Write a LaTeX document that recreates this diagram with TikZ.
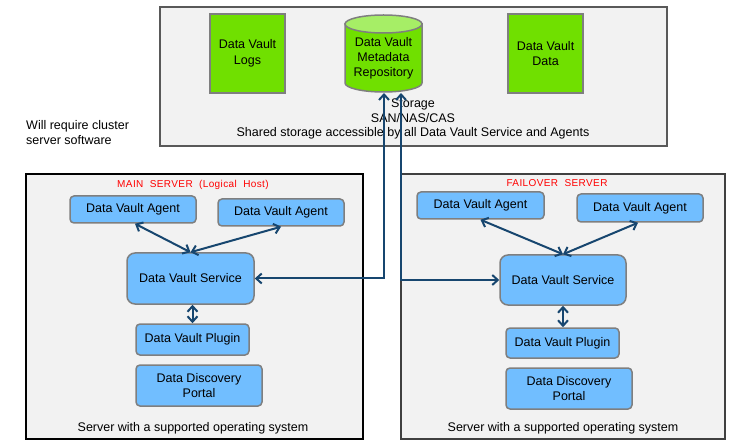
\documentclass[tikz,border=0pt]{standalone}
\usepackage{fontspec}
\setmainfont{Liberation Sans}
\usetikzlibrary{arrows.meta,calc}
\definecolor{panel}{HTML}{F2F2F2}
\definecolor{boxblue}{HTML}{71BEFF}
\definecolor{boxgreen}{HTML}{70E000}
\definecolor{topgreen}{HTML}{A6EE66}
\definecolor{edgegray}{HTML}{7F7F7F}
\definecolor{arrblue}{HTML}{17466F}
\definecolor{titlered}{HTML}{FF0000}
\tikzset{
  panelbox/.style={fill=panel,line width=2pt},
  bluebox/.style={draw=edgegray,fill=boxblue,line width=1.5pt,rounded corners=4pt,align=center,inner sep=0pt,font=\fontsize{12.5}{15}\selectfont},
  greenbox/.style={draw=edgegray,fill=boxgreen,line width=1.5pt,align=center,inner sep=0pt,minimum width=75pt,minimum height=79pt,font=\fontsize{12.5}{15.5}\selectfont},
  conn/.style={draw=arrblue,line width=2pt,{Straight Barb[length=5.5pt,width=10pt]}-{Straight Barb[length=5.5pt,width=10pt]}},
  plain/.style={font=\fontsize{12.5}{14.5}\selectfont,align=center,inner sep=0pt},
  redtitle/.style={text=titlered,inner sep=0pt,font=\fontsize{10}{12}\selectfont\addfontfeature{LetterSpace=4}}
}
\begin{document}
\begin{tikzpicture}[x=1pt,y=-1pt]
\useasboundingbox (0,0) rectangle (730,443);
% storage panel
\draw[panelbox,draw=black!65] (160,7) rectangle (667,146);
\node[greenbox] (logs) at (247.5,53.5) {Data Vault\\Logs};
\node[greenbox] (data) at (545.5,53.5) {Data Vault\\Data};
% cylinder
\path[fill=boxgreen,draw=edgegray,line width=1.5pt]
  (345,24) -- (345,83) arc[start angle=180,end angle=0,x radius=38.5,y radius=9] -- (422,24) -- cycle;
\path[fill=topgreen,draw=edgegray,line width=1.5pt] (383.5,24) ellipse[x radius=38.5,y radius=9];
\node[plain,font=\fontsize{12.5}{15}\selectfont] (repo) at (383.5,58) {Data Vault\\Metadata\\Repository};
\coordinate (cylA) at (384,93);
\coordinate (cylB) at (401,93);
\node[plain] (storage) at (413,119) {Storage\\SAN/NAS/CAS\\Shared storage accessible by all Data Vault Service and Agents};
\node[plain,align=left,anchor=west] (note) at (26,132.5) {Will require cluster\\server software};
% main server
\draw[panelbox,draw=black] (26,174) rectangle (363,439);
\node[redtitle] (titleA) at (193,185) {MAIN\ \ SERVER\ \ (Logical\ \ Host)};
\node[bluebox,minimum width=126pt,minimum height=27pt] (agentA1) at (133,209.5) {Data Vault Agent};
\node[bluebox,minimum width=126pt,minimum height=27pt] (agentA2) at (281,212.5) {Data Vault Agent};
\node[bluebox,rounded corners=8pt,minimum width=127pt,minimum height=51pt] (svcA) at (190.5,278.5) {Data Vault Service};
\node[bluebox,minimum width=113pt,minimum height=31pt] (plugA) at (192.5,339.5) {Data Vault Plugin};
\node[bluebox,minimum width=126pt,minimum height=41pt] (portA) at (199,385.5) {Data Discovery\\Portal};
\node[plain] (footA) at (193,428) {Server with a supported operating system};
% failover server
\draw[panelbox,draw=black!75] (401,174) rectangle (725,439);
\node[redtitle] (titleB) at (557,183) {FAILOVER\ \ SERVER};
\node[bluebox,minimum width=127pt,minimum height=27pt] (agentB1) at (480.5,205.5) {Data Vault Agent};
\node[bluebox,minimum width=126pt,minimum height=28pt] (agentB2) at (640,208) {Data Vault Agent};
\node[bluebox,rounded corners=8pt,minimum width=126pt,minimum height=50pt] (svcB) at (563,280) {Data Vault Service};
\node[bluebox,minimum width=113pt,minimum height=30pt] (plugB) at (562.5,343) {Data Vault Plugin};
\node[bluebox,minimum width=126pt,minimum height=41pt] (portB) at (569,388.5) {Data Discovery\\Portal};
\node[plain] (footB) at (563,428) {Server with a supported operating system};
% connectors
\draw[conn] ($(agentA1.south)+(2,0)$) -- (svcA.north);
\draw[conn] (agentA2.south) -- (svcA.north);
\draw[conn] (plugA.north |- svcA.south) -- (plugA.north);
\draw[conn] (agentB1.south) -- (svcB.north);
\draw[conn] ($(agentB2.south)+(-2,0)$) -- (svcB.north);
\draw[conn] (svcB.south) -- (svcB.south |- plugB.north);
\draw[conn] (svcA.east) -| (cylA);
\draw[conn] (svcB.west) -| (cylB);
\end{tikzpicture}
\end{document}
